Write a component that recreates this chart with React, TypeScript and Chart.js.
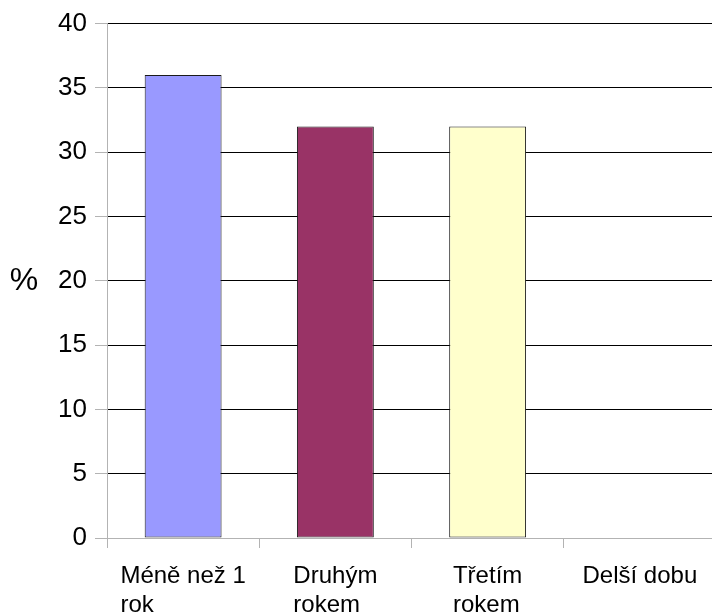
import React, { useEffect, useRef } from "react";
import { Chart, registerables } from "chart.js";

Chart.register(...registerables);

const categories: string[][] = [["Méně než 1", "rok"], ["Druhým", "rokem"], ["Třetím", "rokem"], ["Delší dobu"]];
const values: number[] = [36, 32, 32, 0];
const barColors: string[] = ["#9999ff", "#993366", "#ffffcc", "#ffffff"];
const yTicks: number[] = [0, 5, 10, 15, 20, 25, 30, 35, 40];
const yTitle = "%";

const FONT = "'Liberation Sans', Arial, sans-serif";

export default function App() {
  const ref = useRef<HTMLCanvasElement | null>(null);
  useEffect(() => {
    if (!ref.current) return;
    const labelPlugin = {
      id: "customLabels",
      afterDraw(chart: any) {
        const ctx = chart.ctx;
        const xs = chart.scales.x;
        const area = chart.chartArea;
        ctx.save();
        ctx.fillStyle = "#000";
        ctx.font = `24px ${FONT}`;
        ctx.textAlign = "left";
        ctx.textBaseline = "alphabetic";
        categories.forEach((lines, i) => {
          const cx = xs.getPixelForValue(i);
          const w = Math.max(...lines.map((l) => ctx.measureText(l).width));
          const sx = cx - w / 2;
          lines.forEach((l, j) => {
            ctx.fillText(l, sx, area.bottom + 45 + j * 28.5);
          });
        });
        ctx.font = `32px ${FONT}`;
        ctx.textAlign = "center";
        ctx.textBaseline = "middle";
        ctx.fillText(yTitle, 24, (area.top + area.bottom) / 2);
        ctx.restore();
      },
    };
    const chart = new Chart(ref.current, {
      type: "bar",
      data: {
        labels: categories.map((c) => c.join(" ")),
        datasets: [
          {
            data: values,
            backgroundColor: barColors,
            borderColor: "#1a1a1a",
            borderWidth: 1,
            borderSkipped: false,
            barPercentage: 0.505,
            categoryPercentage: 1,
          },
        ],
      },
      options: {
        animation: false,
        responsive: false,
        layout: { padding: { top: 23, right: 4, bottom: 0, left: 0 } },
        plugins: { legend: { display: false }, tooltip: { enabled: false } },
        scales: {
          x: {
            offset: true,
            grid: {
              offset: true,
              drawOnChartArea: false,
              drawTicks: true,
              tickLength: 10,
              color: "#b3b3b3",
            },
            border: { color: "#b3b3b3" },
            ticks: { display: false },
            afterFit(scale: any) {
              scale.height = 74;
            },
          },
          y: {
            min: 0,
            max: 40,
            afterBuildTicks(scale: any) {
              scale.ticks = yTicks.map((v) => ({ value: v }));
            },
            grid: {
              color: (c: any) => (c.tick && c.tick.value === 0 ? "#b3b3b3" : "#000000"),
              tickColor: "#b3b3b3",
              tickLength: 12,
            },
            border: { color: "#b3b3b3" },
            ticks: {
              color: "#000",
              padding: 8,
              font: { family: FONT, size: 26 },
            },
            afterFit(scale: any) {
              scale.width = 107;
            },
          },
        },
      },
      plugins: [labelPlugin],
    });
    return () => chart.destroy();
  }, []);
  return (
    <div style={{ position: "fixed", left: 0, top: 0, width: 712, height: 612, overflow: "hidden", background: "#fff" }}>
      <canvas ref={ref} width={720} height={612} style={{ display: "block", width: 720, height: 612 }} />
    </div>
  );
}
